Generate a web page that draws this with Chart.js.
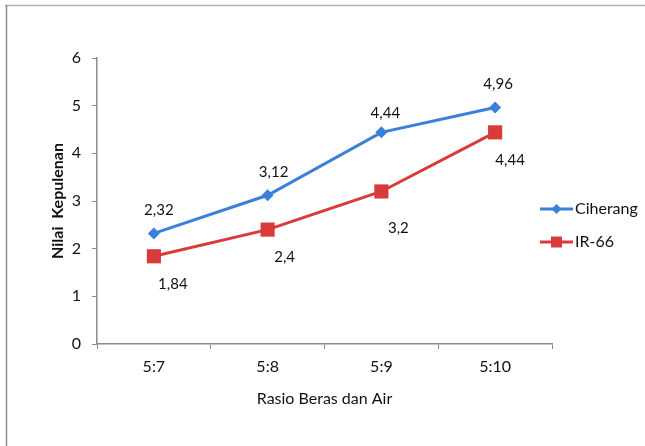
<!DOCTYPE html>
<html>
<head>
<meta charset="utf-8">
<script src="https://cdn.jsdelivr.net/npm/chart.js@4/dist/chart.umd.min.js"></script>
<style>
  html, body { margin: 0; padding: 0; background: #fff; }
  #wrap { width: 645px; height: 446px; position: relative; }
</style>
</head>
<body>
<div id="wrap"><canvas id="c" width="645" height="446"></canvas></div>
<script>
// Categories: rice-to-water ratio
const categories = ['5:7', '5:8', '5:9', '5:10'];
// Fluffiness score per variety
const ciherang = [2.32, 3.12, 4.44, 4.96];
const ir66 = [1.84, 2.4, 3.2, 4.44];
const seriesNames = ['Ciherang', 'IR-66'];
const yTicks = [0, 1, 2, 3, 4, 5, 6];

const FONT = "Lato, 'Liberation Sans Narrow', 'DejaVu Sans', sans-serif";
const BLUE = '#3b80d8';
const RED = '#d93a3a';
const TEXT = '#111';

// comma decimal formatting
const fmt = v => String(v).replace('.', ',');

// frame lines along the top and left edge
const framePlugin = {
  id: 'frame',
  beforeDraw(chart) {
    const ctx = chart.ctx;
    ctx.save();
    ctx.strokeStyle = '#b0b0b0';
    ctx.lineWidth = 1.5;
    ctx.beginPath();
    ctx.moveTo(5, 5.5); ctx.lineTo(645, 5.5);
    ctx.stroke();
    ctx.strokeStyle = '#8c8c8c';
    ctx.beginPath();
    ctx.moveTo(6.5, 5); ctx.lineTo(6.5, 446);
    ctx.stroke();
    ctx.restore();
  }
};

// value labels next to each point (label offsets in px, per series / point)
const labelOffsets = [
  [[5, -23], [6, -23], [4, -19], [3, -23]],
  [[19, 28], [17, 28], [17, 37], [15, 28]]
];
const valueLabels = {
  id: 'valueLabels',
  afterDatasetsDraw(chart) {
    const ctx = chart.ctx;
    ctx.save();
    ctx.font = '15px ' + FONT;
    ctx.fillStyle = TEXT;
    ctx.textAlign = 'center';
    ctx.textBaseline = 'middle';
    chart.data.datasets.forEach((ds, i) => {
      const meta = chart.getDatasetMeta(i);
      meta.data.forEach((pt, j) => {
        const [dx, dy] = labelOffsets[i][j];
        ctx.fillText(fmt(ds.data[j]), pt.x + dx, pt.y + dy);
      });
    });
    ctx.restore();
  }
};

// legend with line + marker samples on the right
const sideLegend = {
  id: 'sideLegend',
  afterDraw(chart) {
    const ctx = chart.ctx;
    ctx.save();
    const x0 = 540, x1 = 573, ys = [209, 242];
    chart.data.datasets.forEach((ds, i) => {
      const y = ys[i];
      ctx.strokeStyle = ds.borderColor;
      ctx.lineWidth = 3;
      ctx.beginPath();
      ctx.moveTo(x0, y); ctx.lineTo(x1, y);
      ctx.stroke();
      ctx.fillStyle = ds.pointBackgroundColor;
      const cx = (x0 + x1) / 2;
      if (ds.pointStyle === 'rectRot') {
        const r = 5;
        ctx.beginPath();
        ctx.moveTo(cx - r, y); ctx.lineTo(cx, y - r); ctx.lineTo(cx + r, y); ctx.lineTo(cx, y + r);
        ctx.closePath(); ctx.fill();
      } else {
        ctx.fillRect(cx - 5.5, y - 5.5, 11, 11);
      }
      ctx.fillStyle = TEXT;
      ctx.font = '16px ' + FONT;
      ctx.textAlign = 'left';
      ctx.textBaseline = 'middle';
      ctx.fillText(ds.label, x1 + 2, y);
    });
    ctx.restore();
  }
};

new Chart(document.getElementById('c'), {
  type: 'line',
  data: {
    labels: categories,
    datasets: [
      {
        label: seriesNames[0], data: ciherang,
        borderColor: BLUE, backgroundColor: BLUE,
        pointBackgroundColor: BLUE, pointBorderColor: BLUE,
        pointStyle: 'rectRot', pointRadius: 6, pointBorderWidth: 0,
        borderWidth: 3, tension: 0
      },
      {
        label: seriesNames[1], data: ir66,
        borderColor: RED, backgroundColor: RED,
        pointBackgroundColor: RED, pointBorderColor: RED,
        pointStyle: 'rect', pointRadius: 10, pointBorderWidth: 0,
        borderWidth: 3, tension: 0
      }
    ]
  },
  options: {
    responsive: false,
    animation: false,
    layout: { padding: { top: 58, right: 93, left: 0, bottom: 0 } },
    plugins: { legend: { display: false }, tooltip: { enabled: false } },
    scales: {
      x: {
        offset: true,
        grid: { offset: true, drawOnChartArea: false, drawTicks: true, tickLength: 5, color: '#8c8c8c' },
        border: { color: '#8c8c8c', width: 1.5 },
        ticks: { color: TEXT, font: { family: FONT, size: 16 }, padding: 8 },
        title: { display: true, text: 'Rasio Beras dan Air', color: TEXT,
                 font: { family: FONT, size: 16 }, padding: { top: 0, bottom: 38 } },
        afterFit(scale) { scale.height = 102; }
      },
      y: {
        min: 0, max: 6,
        afterBuildTicks(scale) { scale.ticks = yTicks.map(v => ({ value: v })); },
        grid: { drawOnChartArea: false, drawTicks: true, tickLength: 5, color: '#8c8c8c' },
        border: { color: '#8c8c8c', width: 1.5 },
        ticks: { color: TEXT, font: { family: FONT, size: 16 }, padding: 11 },
        title: { display: true, text: 'Nilai  Kepulenan', color: TEXT,
                 font: { family: FONT, size: 16, weight: 'bold' }, padding: { top: 48, bottom: 0 } },
        afterFit(scale) { scale.width = 97; }
      }
    }
  },
  plugins: [framePlugin, valueLabels, sideLegend]
});
</script>
</body>
</html>
